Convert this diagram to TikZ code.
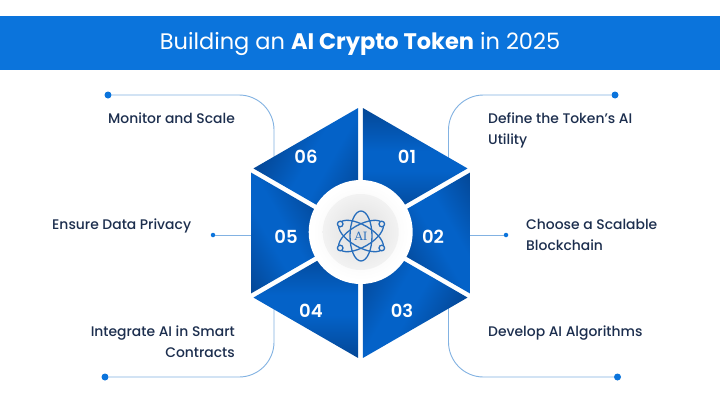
\documentclass[tikz,border=0pt]{standalone}
\usepackage{fontspec}
\setmainfont{Poppins}
\newfontfamily\labelfont{Poppins Medium}
\newfontfamily\numfont{Poppins SemiBold}
\newfontfamily\iconfont{DejaVu Serif}
\usetikzlibrary{calc,positioning}
\definecolor{hdrblue}{RGB}{11,116,220}
\definecolor{segdark}{RGB}{3,42,96}
\definecolor{segbright}{RGB}{4,98,200}
\definecolor{linkblue}{RGB}{130,178,226}
\definecolor{labelnavy}{RGB}{28,46,78}
\definecolor{iconblue}{RGB}{40,110,188}
\pgfdeclareverticalshading{segshade}{100bp}{color(0bp)=(segdark); color(40bp)=(segdark); color(49bp)=(segbright); color(51bp)=(segbright); color(60bp)=(segdark); color(100bp)=(segdark)}

\begin{document}
\begin{tikzpicture}[x=1pt,y=-1pt,
  lab/.style={inner sep=0pt,text=labelnavy,font=\labelfont\fontsize{13.9}{21}\selectfont},
  num/.style={inner sep=0pt,text=white,font=\numfont\fontsize{18}{18}\selectfont},
  bigdot/.style={circle,fill=hdrblue,inner sep=0pt,minimum size=7pt},
  smalldot/.style={circle,fill=hdrblue,inner sep=0pt,minimum size=4.5pt},
  link/.style={draw=linkblue,line width=0.9pt,rounded corners=35pt},
  atom/.style={draw=iconblue,line width=1.3pt}]
\useasboundingbox (0,0) rectangle (720,415);
\fill[white] (0,0) rectangle (720,415);
\coordinate (hub) at (360.5,233);

% banner
\node[fill=hdrblue,minimum width=720pt,minimum height=54.5pt,inner sep=0pt] (banner) at (360,42.8) {};
\node[text=white,font=\fontsize{22.5}{23}\selectfont] (title) at (360,43.5) {Building an \textbf{AI Crypto Token} in 2025};

% connectors
\node[bigdot] (dtl) at (108,95) {};
\node[bigdot] (dtr) at (615,95) {};
\node[bigdot] (dbl) at (105,377) {};
\node[bigdot] (dbr) at (617.5,377) {};
\node[smalldot] (dml) at (213,235) {};
\node[smalldot] (dmr) at (506,235) {};
\coordinate (etl) at (274,170);
\coordinate (etr) at (448.5,170);
\coordinate (ebl) at (274,300);
\coordinate (ebr) at (448.5,300);
\coordinate (eml) at (260,235);
\coordinate (emr) at (460,235);
\draw[link] (dtl) -| (etl);
\draw[link] (dtr) -| (etr);
\draw[link] (dbl) -| (ebl);
\draw[link] (dbr) -| (ebr);
\draw[link] (dml) -- (eml);
\draw[link] (dmr) -- (emr);

% hexagon
\foreach \i [evaluate=\i as \ang using -60*\i] in {0,...,5}{
  \begin{scope}
    \clip ($(hub)+(-60+60*\i:4.8)$) -- ($(hub)+(-88.9+60*\i:125)$) -- ($(hub)+(-31.1+60*\i:125)$) -- cycle;
    \shade[shading=segshade,shading angle=\ang] ($(hub)+(-90+60*\i:72)$) circle (250);
  \end{scope}
}

% hub
\node[circle,fill=white,minimum size=104pt,inner sep=0pt] (ring) at (360.7,232) {};
\node[circle,inner color=gray!12,outer color=white,minimum size=96pt,inner sep=0pt] (halo) at (ring.center) {};
\node[circle,inner color=gray!26,outer color=gray!10,minimum size=76pt,inner sep=0pt] (core) at (ring.center) {};

% atom
\coordinate (ic) at (361,236);
\draw[atom] (ic) ellipse [x radius=11,y radius=25];
\draw[atom,rotate around={60:(ic)}] (ic) ellipse [x radius=11,y radius=25];
\draw[atom,rotate around={-60:(ic)}] (ic) ellipse [x radius=11,y radius=25];
\foreach \a in {30,150,210,330}{
  \filldraw[atom,fill=gray!18] ($(ic)+(\a:24)$) circle (2.8);
}
\node[text=iconblue,inner sep=0pt,font=\iconfont\fontsize{11.5}{12}\selectfont] (ai) at (ic) {AI};

% numbers
\node[num] (n1) at (407,157) {01};
\node[num] (n2) at (433,237) {02};
\node[num] (n3) at (402,311) {03};
\node[num] (n4) at (311,311) {04};
\node[num] (n5) at (286,237) {05};
\node[num] (n6) at (306,157) {06};

% labels
\node[lab,anchor=base west,align=left] (l1) at (488,144) {Define the Token’s AI\\Utility};
\node[lab,anchor=base west,align=left] (l2) at (526,250) {Choose a Scalable\\Blockchain};
\node[lab,anchor=base west] (l3) at (488,336) {Develop AI Algorithms};
\node[lab,anchor=base east,align=right] (l4) at (235,357) {Integrate AI in Smart\\Contracts};
\node[lab,anchor=base west] (l5) at (52,229) {Ensure Data Privacy};
\node[lab,anchor=base west] (l6) at (108,123) {Monitor and Scale};
\end{tikzpicture}
\end{document}
